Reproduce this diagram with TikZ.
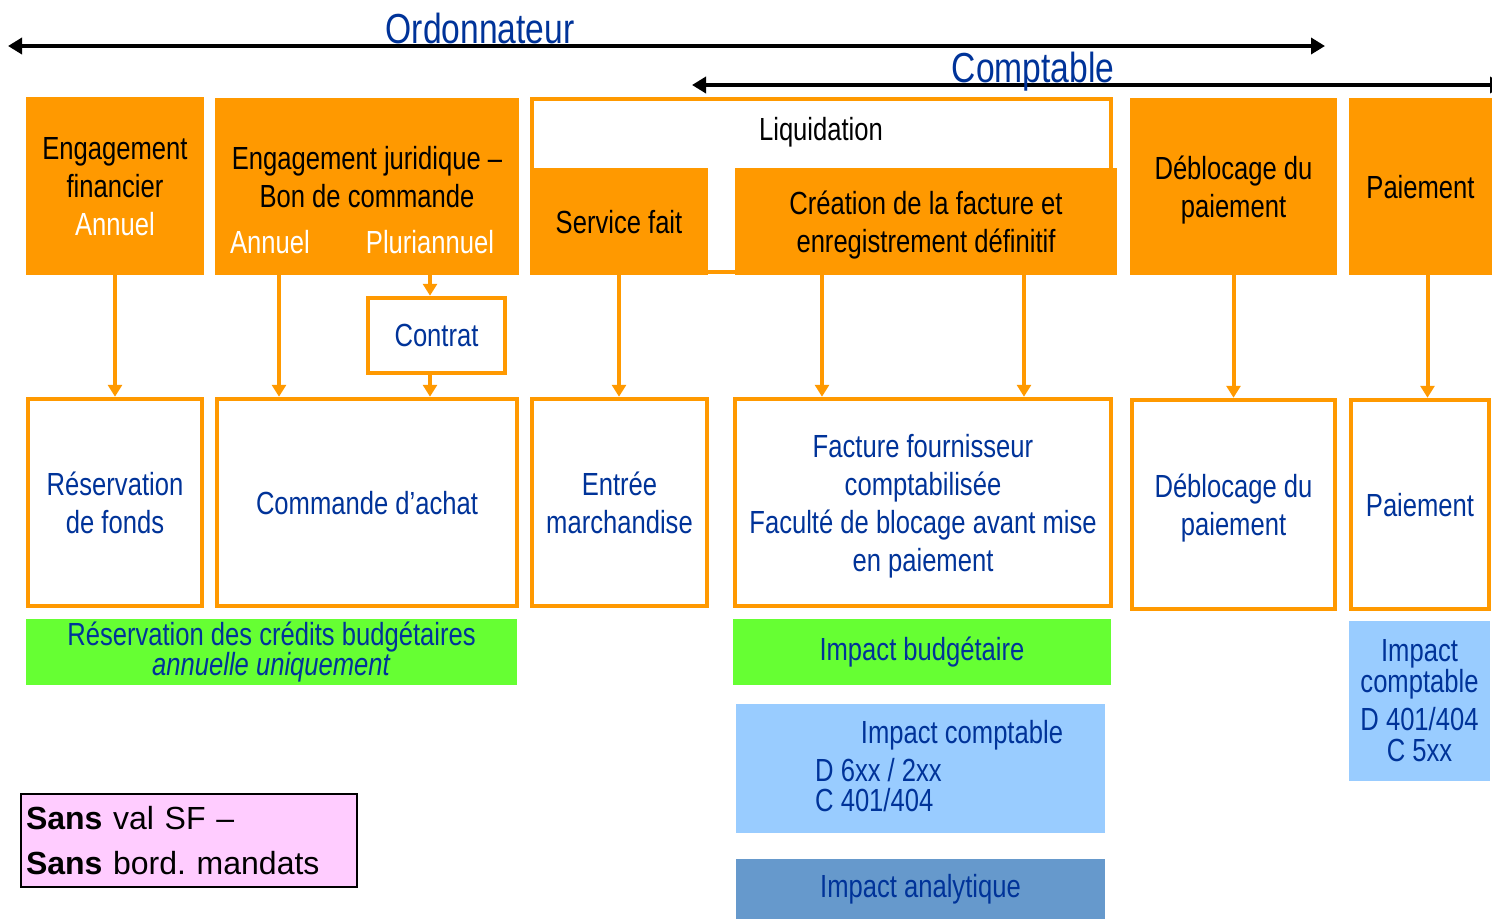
\documentclass[tikz,border=0pt]{standalone}
\usepackage{fontspec}
\setmainfont{Liberation Sans}[FakeStretch=0.8]
\newfontfamily\widefont{Liberation Sans}
\usetikzlibrary{arrows.meta,positioning}
\definecolor{orangebg}{RGB}{255,153,0}
\definecolor{inkblue}{RGB}{0,51,153}
\definecolor{budgreen}{RGB}{102,255,51}
\definecolor{cptblue}{RGB}{153,204,255}
\definecolor{anablue}{RGB}{102,153,204}
\definecolor{notepink}{RGB}{255,204,255}
\newcommand{\boxfont}{\fontsize{32}{38}\selectfont}

\begin{document}
\begin{tikzpicture}
        [x=1pt,y=-1pt,
         every node/.style={font=\boxfont,align=center,inner sep=0pt},
         phase/.style={fill=orangebg,text=black,text depth=0pt},
         doc/.style={draw=orangebg,line width=4.5pt,fill=white,text=inkblue,text depth=0pt},
         impact/.style={text=inkblue},
         link/.style={draw=orangebg,line width=4pt,-{Triangle[length=12pt,width=14pt]}},
         span/.style={line width=4pt,{Triangle[length=14pt,width=16pt]}-{Triangle[length=14pt,width=16pt]}},
         role/.style={font=\fontsize{42}{50}\selectfont,text=inkblue,anchor=base}]
        \useasboundingbox (0,0) rectangle (1492,919);

        \coordinate (ordL) at (8,46);
        \coordinate (ordR) at (1325,46);
        \coordinate (cptL) at (692,85);
        \coordinate (cptR) at (1504,85);
        \draw[span] (ordL) -- (ordR);
        \draw[span] (cptL) -- (cptR);
        \node[role] (ordo) at (480,43) {Ordonnateur};
        \node[role] (compta) at (1033,82) {Comptable};

        \node[phase,minimum width=178pt,minimum height=178pt] (engfin) at (115,186) {Engagement\\financier\\\textcolor{white}{Annuel}};
        \node[phase,minimum width=304pt,minimum height=177pt] (engjur) at (367,186.5) {};
        \node[text=black] (engjurtxt) at (367,177) {Engagement juridique –\\Bon de commande};
        \node[text=white,anchor=base] (annjur) at (270,253) {Annuel};
        \node[text=white,anchor=base] (plur) at (430,253) {Pluriannuel};

        \node[draw=orangebg,line width=4pt,minimum width=579pt,minimum height=173pt] (liq) at (821.5,185.5) {};
        \node[anchor=base] (liqtxt) at (821,140) {Liquidation};
        \node[phase,minimum width=178pt,minimum height=107pt] (sf) at (619,221.5) {Service fait};
        \node[phase,minimum width=382pt,minimum height=107pt] (creation) at (926,221.5) {Création de la facture et\\enregistrement définitif};
        \node[phase,minimum width=207pt,minimum height=177pt] (debloc) at (1233.5,186.5) {Déblocage du\\paiement};
        \node[phase,minimum width=143pt,minimum height=177pt] (paie) at (1420.5,186.5) {Paiement};

        \node[doc,minimum width=137pt,minimum height=75pt] (contrat) at (436.5,335.5) {Contrat};

        \node[doc,minimum width=174pt,minimum height=207pt] (resfonds) at (115,502.5) {Réservation\\de fonds};
        \node[doc,minimum width=300pt,minimum height=207pt] (cmd) at (367,502.5) {Commande d’achat};
        \node[doc,minimum width=175pt,minimum height=207pt] (entree) at (619.5,502.5) {Entrée\\marchandise};
        \node[doc,minimum width=376pt,minimum height=207pt] (facture) at (923,502.5) {Facture fournisseur\\comptabilisée\\Faculté de blocage avant mise\\en paiement};
        \node[doc,minimum width=203pt,minimum height=209pt] (debloc2) at (1233.5,504.5) {Déblocage du\\paiement};
        \node[doc,minimum width=138pt,minimum height=209pt] (paie2) at (1420,504.5) {Paiement};

        \draw[link] (engfin) -- (resfonds);
        \draw[link] ([xshift=-88pt]engjur.south) -- ([xshift=-88pt]cmd.north);
        \draw[link] (engjur.south -| plur) -- (contrat.north -| plur);
        \draw[link] (contrat.south -| plur) -- (cmd.north -| plur);
        \draw[link] (sf.south) -- (sf.south |- entree.north);
        \draw[link] ([xshift=-104pt]creation.south) -- ([xshift=-104pt]creation.south |- facture.north);
        \draw[link] ([xshift=98pt]creation.south) -- ([xshift=98pt]creation.south |- facture.north);
        \draw[link] (debloc) -- (debloc2);
        \draw[link] ([xshift=7pt]paie.south) -- ([xshift=7pt]paie.south |- paie2.north);

        % impacts
        \node[fill=budgreen,text=inkblue,minimum width=491pt,minimum height=66pt,font=\fontsize{32}{29}\selectfont] (resbud) at (271.5,652) {Réservation des crédits budgétaires\\\textit{annuelle uniquement}};
        \node[fill=budgreen,text=inkblue,minimum width=378pt,minimum height=66pt] (impbud) at (922,652) {Impact budgétaire};
        \node[fill=cptblue,minimum width=369pt,minimum height=129pt] (impcpt) at (920.5,768.5) {};
        \node[impact,anchor=base] (impcpttitle) at (962,743) {Impact comptable};
        \node[impact,anchor=base west] (debit) at (815,781) {D 6xx / 2xx};
        \node[impact,anchor=base west] (credit) at (815,811) {C 401/404};
        \node[fill=cptblue,text=inkblue,minimum width=141pt,minimum height=160pt,font=\fontsize{32}{31}\selectfont] (impcpt2) at (1419.5,701) {Impact\\comptable\\[7pt]D 401/404\\C 5xx};
        \node[fill=anablue,text=inkblue,minimum width=369pt,minimum height=60pt] (impana) at (920.5,889) {Impact analytique};

        \node[draw=black,line width=2pt,fill=notepink,minimum width=336pt,minimum height=93pt,text width=326pt,align=left,font=\widefont\fontsize{32}{45}\selectfont] (note) at (189,840.5) {\textbf{Sans} val SF –\\\textbf{Sans} bord.\ mandats};
    \end{tikzpicture}
\end{document}
